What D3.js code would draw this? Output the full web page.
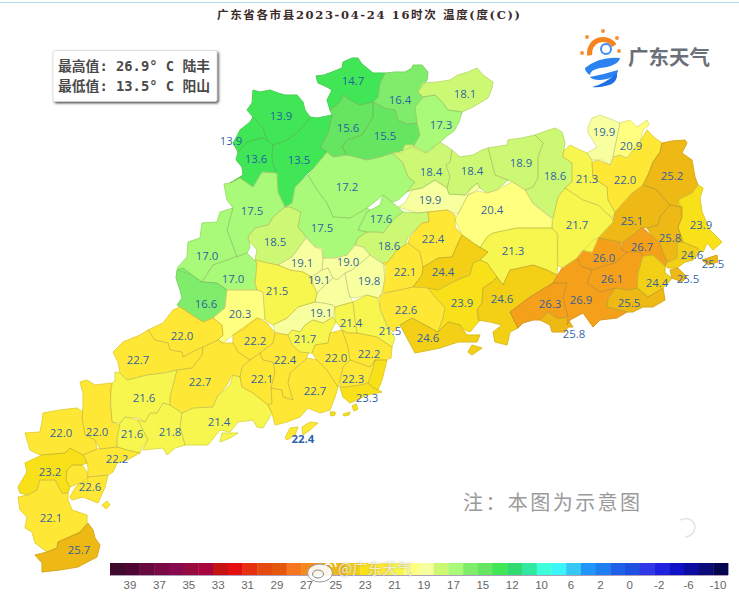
<!DOCTYPE html>
<html><head><meta charset="utf-8">
<script src="https://cdn.jsdelivr.net/npm/d3@7"></script>
<style>html,body{margin:0;padding:0;background:#fff;overflow:hidden}svg{display:block}</style>
</head><body><svg id="c" width="739" height="592"></svg>
<script>
// ---- chart values ----
const titleText = "广东省各市县2023-04-24 16时次 温度(度(C))";
const infoLines = ["最高值: 26.9° C 陆丰", "最低值: 13.5° C 阳山"];
// temperature of every county-level shape, same order as regionRings
const regionValues = [
 14.7,13.9,13.9,13.6,13.5,15.6,15.5,16.4,18.1,17.3,
 17.2,17.5,17.6,19.9,19.9,18.6,18.4,18.4,18.9,18.6,
 20.4,21.3,22.4,22.1,24.4,23.9,22.6,24.6,24.6,24.6,
 26.3,25.8,26.9,26.0,26.1,26.7,24.4,25.5,25.1,21.7,
 21.3,22.0,20.9,19.9,25.2,23.9,25.8,24.6,25.5,25.5,
 17.5,17.0,17.0,16.6,18.5,19.1,19.1,19.1,19.1,19.0,
 19.8,21.5,20.3,22.2,22.0,22.7,22.7,21.6,22.0,22.0,
 21.6,21.8,21.4,21.4,22.1,22.4,21.7,21.4,21.5,22.2,
 23.0,23.3,22.0,22.7,22.3,23.3,23.3,23.3,22.4,22.4,
 22.2,22.6,22.6,22.6,23.2,22.1,25.7
];
// printed value labels
const labelValues = ["14.7","13.9","13.9","13.6","13.5","15.6","15.5","16.4","18.1","17.3","17.2","17.5","17.5","17.6","18.5","18.6","17.0","17.0","16.6","19.1","19.1","19.0","19.8","21.5","20.3","19.1","21.4","21.5","21.7","22.2","22.0","22.7","22.4","22.0","22.2","22.1","22.7","22.7","22.3","23.3","21.6","21.4","21.6","21.8","22.0","22.0","22.2","22.4","23.2","22.6","22.1","25.7","18.4","18.4","18.9","18.6","19.9","20.9","21.3","22.0","25.2","19.9","20.4","21.7","23.9","25.1","25.8","26.7","24.6","25.5","22.4","21.3","26.0","22.1","24.4","26.1","24.4","25.5","23.9","24.6","22.6","26.3","26.9","25.5","25.8","24.6"];
// legend
const legendColors = ["#3f0a2b","#4d0730","#660a3f","#7a0a44","#870a4e","#960a3c","#a8053f","#c51212","#e50e0e","#e6300f","#e34c0e","#e4580e","#f5761e","#f58a1c","#f5a01a","#eeb815","#f3d016","#f9e11a","#ffe835","#f7f64e","#ffff80","#f7ff9f","#cdf874","#a8fa78","#80ec6b","#65e560","#40e655","#30dc70","#30e8a0","#3effdc","#3cf5f8","#35c8f5","#2196f8","#1e80f0","#2060e8","#2050e0","#3038e6","#2020e0","#1010c8","#0c0ca0","#0a0a78","#060650"];
const legendTicks = ["39","37","35","33","31","29","27","25","23","21","19","17","15","12","10","6","2","0","-2","-6","-10"];
// value classes: lower limit of each class and its legend cell
const classLimits = [13,15,16,17,18,19,20,21,22,23,24,25,26];
const classCells  = [26,25,24,23,22,21,20,19,18,17,16,15,14];

// ---- map geometry (base map outlines and label anchors, in map units) ----
const regionRings = [
/*14.7*/[[316,76],[318,83],[327,87],[332,90],[327,100],[330,110],[340,102],[343,95],[350,100],[360,105],[373,102],[378,97],[380,83],[385,73],[373,73],[367,68],[362,64],[358,58],[352,58],[343,62],[342,68],[332,72],[324,75]],
/*13.9*/[[253,90],[260,92],[270,90],[278,93],[285,95],[297,95],[303,102],[305,110],[310,117],[307,122],[298,132],[287,140],[273,145],[267,140],[263,128],[253,117],[247,110],[252,103]],
/*13.9w*/[[250,122],[240,130],[236,138],[233,143],[238,152],[247,142],[262,138],[267,140],[263,128],[253,117]],
/*13.6*/[[238,152],[247,142],[262,138],[267,140],[273,145],[272,155],[273,165],[277,173],[262,172],[253,187],[240,178],[230,183],[243,175],[242,167],[236,160]],
/*13.5*/[[273,145],[287,140],[298,132],[307,122],[310,117],[317,118],[332,115],[328,133],[320,147],[327,152],[318,163],[308,173],[295,187],[292,203],[285,207],[278,192],[277,173],[273,165],[272,155]],
/*15.6*/[[332,115],[330,110],[340,102],[343,95],[350,100],[360,105],[373,102],[373,117],[367,127],[362,135],[347,140],[342,147],[347,155],[333,157],[327,152],[320,147],[328,133]],
/*15.5*/[[373,102],[385,108],[395,110],[398,120],[407,124],[417,123],[420,135],[413,147],[400,151],[393,153],[380,157],[367,160],[347,155],[342,147],[347,140],[362,135],[367,127],[373,117]],
/*16.4*/[[385,73],[395,72],[405,72],[412,68],[413,65],[422,65],[428,72],[427,80],[418,92],[423,97],[415,107],[417,123],[407,124],[398,120],[395,110],[385,108],[373,102],[378,97],[380,83]],
/*18.1*/[[418,92],[423,83],[438,82],[450,80],[458,75],[468,72],[477,68],[483,75],[493,82],[492,88],[488,98],[473,107],[462,112],[448,110],[442,102],[435,95],[423,97]],
/*17.3*/[[423,97],[435,95],[442,102],[448,110],[462,112],[459,122],[454,131],[447,136],[440,142],[425,153],[413,147],[420,135],[417,123],[415,107]],
/*17.2*/[[318,163],[327,152],[333,157],[347,155],[367,160],[380,157],[393,153],[403,163],[408,177],[415,182],[407,192],[398,200],[392,202],[383,195],[367,208],[350,218],[333,217],[327,203],[317,190],[308,175]],
/*17.5e*/[[292,203],[295,187],[308,175],[317,190],[327,203],[333,217],[350,218],[367,208],[370,210],[367,212],[360,225],[358,230],[367,232],[358,238],[355,245],[347,255],[335,258],[323,258],[322,250],[315,247],[310,241],[303,233],[298,227],[301,212],[290,207],[285,207]],
/*17.6*/[[358,230],[362,222],[367,212],[380,205],[383,195],[392,202],[403,212],[395,218],[383,233],[378,232],[367,232]],
/*19.9*/[[398,207],[405,203],[412,190],[422,188],[435,180],[447,188],[449,194],[468,195],[458,214],[447,210],[428,212],[417,213]],
/*19.9 sliver*/[[468,195],[470,188],[478,183],[480,188],[472,193]],
/*18.6*/[[403,212],[417,213],[428,212],[429,222],[422,223],[408,237],[405,245],[397,250],[388,262],[385,265],[370,255],[363,247],[355,245],[358,238],[367,232],[378,232],[383,233],[395,218]],
/*18.4w*/[[392,153],[402,152],[405,145],[413,145],[427,153],[440,142],[452,150],[450,162],[446,165],[450,177],[447,188],[435,180],[422,188],[412,190],[407,192],[415,182],[408,177],[403,163]],
/*18.4e*/[[452,150],[460,157],[473,155],[482,150],[488,148],[492,163],[495,175],[508,180],[497,190],[487,193],[480,188],[477,183],[470,190],[465,195],[449,194],[447,188],[450,177],[446,165],[450,162]],
/*18.9*/[[488,148],[507,145],[508,140],[522,138],[535,135],[543,143],[538,157],[538,178],[533,187],[525,190],[513,182],[508,180],[495,175],[492,163]],
/*18.6e*/[[535,135],[543,132],[555,128],[562,132],[565,143],[563,157],[572,163],[572,182],[565,188],[558,197],[553,218],[548,215],[533,203],[525,190],[533,187],[538,178],[538,157],[543,143]],
/*20.4*/[[458,214],[468,195],[478,191],[487,193],[497,190],[512,182],[525,190],[533,204],[552,219],[552,228],[540,228],[517,228],[493,233],[487,237],[480,248],[470,240],[462,235],[455,220]],
/*21.3*/[[487,237],[493,233],[517,228],[552,228],[557,233],[558,260],[557,275],[547,270],[533,265],[520,268],[510,270],[503,285],[497,277],[487,263],[480,260],[488,252],[480,248]],
/*22.4*/[[428,212],[447,210],[455,215],[455,227],[462,235],[458,243],[452,257],[438,258],[430,263],[423,267],[420,252],[408,243],[410,237],[422,223],[429,222]],
/*22.1*/[[408,243],[420,252],[423,267],[422,275],[413,287],[400,290],[382,293],[385,280],[383,263],[388,262],[397,250],[405,245]],
/*24.4*/[[462,235],[473,243],[488,252],[480,260],[473,263],[470,275],[457,280],[438,290],[428,288],[413,287],[422,275],[423,267],[430,263],[438,258],[452,257],[458,243]],
/*23.9*/[[438,290],[457,280],[470,275],[473,263],[480,260],[487,263],[497,277],[492,282],[483,288],[482,303],[477,310],[480,320],[470,332],[465,330],[460,325],[448,322],[438,332],[443,318],[445,308],[435,297],[428,288]],
/*22.6*/[[380,295],[398,290],[413,287],[428,288],[435,297],[445,308],[443,318],[438,332],[425,325],[412,318],[400,325],[393,332],[387,325],[380,310]],
/*24.6s*/[[400,325],[412,318],[425,325],[438,332],[448,322],[460,325],[467,335],[480,335],[477,342],[458,342],[440,348],[415,353],[408,340]],
/*24.6 isl*/[[472,345],[482,348],[472,355],[468,352]],
/*24.6e*/[[483,288],[492,282],[497,277],[503,285],[510,270],[520,268],[533,265],[547,270],[557,275],[553,283],[530,297],[510,312],[518,328],[510,332],[507,345],[495,342],[493,332],[502,325],[490,322],[478,320],[477,310],[482,303]],
/*26.3*/[[510,312],[530,297],[553,283],[567,283],[563,297],[568,317],[557,318],[548,312],[540,320],[533,320],[523,323],[518,328]],
/*25.8*/[[540,320],[548,312],[557,318],[567,318],[573,327],[568,327],[565,332],[552,332],[550,325]],
/*26.9*/[[553,283],[562,268],[577,258],[581,266],[592,270],[587,283],[600,292],[615,288],[608,298],[607,307],[627,312],[617,318],[600,320],[593,327],[583,313],[570,320],[567,325],[568,317],[563,297],[567,283]],
/*26.0*/[[577,258],[593,240],[598,238],[620,242],[622,250],[627,252],[615,263],[600,267],[592,270],[581,266]],
/*26.1*/[[592,270],[600,267],[615,263],[627,252],[640,252],[643,256],[638,273],[637,288],[628,290],[615,288],[600,292],[587,283]],
/*26.7*/[[622,243],[633,235],[642,227],[653,237],[660,243],[663,253],[667,262],[665,266],[653,255],[643,256],[640,252],[627,252],[622,250]],
/*24.4e*/[[637,288],[638,273],[643,256],[653,255],[665,266],[665,273],[672,278],[668,283],[663,288],[648,297]],
/*25.5s*/[[607,302],[615,288],[628,290],[637,288],[648,297],[663,288],[665,300],[653,307],[643,307],[633,312],[627,312],[607,307]],
/*25.1*/[[598,238],[613,222],[615,212],[632,193],[643,185],[657,190],[663,198],[670,205],[660,217],[658,225],[648,228],[642,227],[633,235],[622,243],[620,242]],
/*21.7*/[[553,218],[558,197],[565,188],[583,200],[598,205],[612,218],[613,222],[598,238],[592,252],[582,250],[577,258],[562,268],[557,265],[558,235],[552,228]],
/*21.3e*/[[563,152],[570,145],[580,150],[587,153],[592,160],[592,163],[593,178],[607,187],[608,200],[615,212],[612,218],[598,205],[583,200],[565,188],[572,182],[572,163],[563,157]],
/*22.0e*/[[592,163],[597,160],[610,165],[613,157],[620,155],[627,158],[633,150],[640,142],[647,130],[655,138],[662,143],[660,152],[653,162],[648,175],[643,185],[632,193],[615,212],[608,200],[607,187],[593,178]],
/*20.9*/[[620,123],[630,120],[637,127],[647,120],[649,125],[643,130],[640,142],[633,150],[627,158],[620,155],[613,157],[615,147],[618,133]],
/*19.9n*/[[588,127],[592,118],[600,115],[613,120],[620,123],[618,133],[615,147],[613,157],[610,165],[602,160],[592,160],[587,153],[597,147],[588,133]],
/*25.2*/[[662,143],[672,141],[685,140],[687,143],[682,153],[692,160],[695,177],[698,185],[692,193],[678,200],[682,207],[670,205],[663,198],[657,190],[643,185],[648,175],[653,162],[660,152]],
/*23.9e*/[[698,185],[703,188],[700,198],[702,212],[710,230],[722,242],[713,250],[707,243],[703,252],[697,248],[683,242],[678,227],[682,217],[678,200],[692,193]],
/*25.8e*/[[670,205],[682,207],[682,217],[678,227],[683,242],[677,243],[677,258],[668,262],[663,253],[660,243],[653,237],[647,228],[658,225],[660,217]],
/*24.6c*/[[677,243],[683,242],[697,248],[700,252],[693,260],[685,262],[677,268],[668,268],[665,266],[668,262],[677,258]],
/*25.5isl*/[[702,260],[717,255],[718,262],[708,265]],
/*25.5c*/[[670,270],[678,268],[687,277],[682,282],[672,278]],
/*17.5w*/[[224,184],[230,183],[240,178],[253,187],[262,172],[277,173],[278,192],[285,207],[273,217],[268,225],[255,228],[248,237],[250,247],[247,253],[237,257],[227,230],[233,208],[227,200]],
/*17.0n*/[[233,208],[220,212],[217,222],[202,223],[200,238],[188,242],[187,257],[178,267],[177,270],[192,275],[202,282],[213,265],[235,257],[237,257],[227,230]],
/*17.0s*/[[202,282],[213,265],[235,257],[247,253],[257,263],[255,283],[257,290],[227,290],[217,283]],
/*16.6*/[[177,270],[183,268],[192,275],[202,282],[217,283],[227,290],[225,308],[213,318],[203,322],[195,317],[180,307],[177,305],[182,298],[180,290],[176,278]],
/*18.5*/[[248,237],[255,228],[268,225],[273,217],[285,207],[290,207],[301,212],[298,227],[303,233],[306,238],[292,257],[278,265],[268,263],[255,260],[257,250],[248,240]],
/*19.1n*/[[292,257],[306,238],[310,242],[315,247],[322,248],[323,258],[322,270],[312,277],[303,272],[290,270],[278,265]],
/*19.1c*/[[312,277],[322,270],[328,268],[333,278],[325,285],[317,293],[313,285]],
/*19 center*/[[317,293],[325,285],[333,278],[337,280],[345,273],[348,290],[350,297],[353,302],[335,307],[333,305],[323,303],[315,302]],
/*19.1s*/[[273,325],[287,318],[298,307],[315,302],[323,303],[333,305],[335,307],[333,317],[323,323],[313,320],[305,325],[300,332],[292,330],[288,335],[275,332]],
/*19.0*/[[323,258],[335,258],[347,255],[355,245],[363,247],[370,255],[362,262],[352,270],[345,273],[337,280],[333,278],[328,268],[322,270]],
/*19.8*/[[345,273],[352,270],[362,262],[370,255],[385,265],[385,277],[382,293],[378,298],[367,295],[355,298],[350,297],[348,290]],
/*21.5*/[[255,260],[268,263],[278,265],[290,270],[303,272],[312,277],[313,285],[317,293],[315,302],[298,307],[287,318],[273,325],[265,320],[263,292],[257,290],[255,283],[257,263]],
/*20.3*/[[227,290],[257,290],[263,292],[265,320],[257,318],[243,330],[233,335],[223,343],[218,340],[223,335],[222,325],[213,318],[225,308]],
/*22.2*/[[233,335],[257,318],[267,323],[275,333],[273,343],[260,353],[250,360],[238,352],[233,343]],
/*22.0w*/[[148,330],[163,323],[173,310],[180,307],[195,317],[203,322],[213,318],[222,325],[223,335],[218,340],[203,347],[192,352],[183,357],[182,352],[170,350],[168,343],[155,340]],
/*22.7nw*/[[113,352],[123,342],[140,335],[148,330],[155,340],[168,343],[170,350],[182,352],[183,357],[192,352],[203,347],[202,355],[192,368],[177,370],[163,373],[147,375],[127,380],[120,373],[118,362]],
/*22.7m*/[[202,355],[203,347],[218,340],[223,343],[233,343],[238,352],[250,360],[242,367],[240,377],[232,375],[227,385],[217,397],[213,407],[193,408],[182,413],[170,405],[170,397],[177,370],[192,368]],
/*21.6n*/[[115,372],[120,373],[127,380],[147,375],[163,373],[177,370],[170,397],[170,405],[163,403],[157,413],[150,413],[145,422],[138,418],[125,417],[120,423],[112,422],[110,387],[115,380]],
/*22.0w2*/[[80,382],[87,380],[95,385],[112,383],[110,403],[112,422],[120,425],[117,438],[117,447],[100,449],[95,440],[85,435],[82,418],[83,407],[83,393]],
/*22.0w1*/[[43,413],[60,410],[77,408],[83,412],[82,418],[85,435],[95,440],[97,449],[83,455],[70,448],[65,453],[40,455],[30,450],[25,433],[40,432],[42,422]],
/*21.6s*/[[120,423],[125,417],[138,420],[143,430],[148,440],[142,448],[140,453],[127,450],[117,447],[117,438]],
/*21.8*/[[145,422],[150,413],[157,413],[163,403],[170,405],[182,413],[180,427],[185,445],[175,448],[167,455],[163,448],[143,450],[148,440],[143,430],[138,420]],
/*21.4*/[[182,413],[193,408],[213,407],[217,397],[230,385],[233,375],[240,377],[242,387],[253,393],[268,405],[272,413],[263,428],[257,427],[253,420],[238,422],[230,432],[220,430],[208,445],[193,445],[185,445],[180,427]],
/*21.4 isl*/[[222,433],[238,433],[230,438],[220,442]],
/*22.1*/[[240,377],[242,367],[250,360],[260,353],[263,360],[273,362],[275,372],[271,388],[272,403],[268,405],[253,393],[242,387]],
/*22.4m*/[[260,353],[273,343],[275,333],[288,335],[292,345],[300,352],[309,353],[305,360],[290,373],[288,383],[293,400],[283,397],[282,390],[271,388],[275,372],[273,362],[263,360]],
/*21.7*/[[288,335],[292,330],[300,332],[305,325],[313,320],[323,323],[333,317],[336,322],[330,333],[328,343],[315,345],[312,353],[300,352],[292,345]],
/*21.4e*/[[335,307],[353,302],[355,320],[357,333],[347,333],[342,330],[335,320]],
/*21.5e*/[[353,302],[367,295],[378,298],[380,307],[387,327],[395,338],[392,347],[377,337],[357,333],[355,320]],
/*22.2e*/[[342,330],[347,333],[357,333],[377,337],[392,347],[391,358],[385,360],[375,360],[370,367],[350,360],[348,347]],
/*strip*/[[375,360],[387,360],[384,372],[382,380],[378,390],[372,387],[368,383],[372,372]],
/*23.3 */[[340,387],[345,387],[360,385],[368,383],[372,387],[378,390],[382,392],[367,395],[350,403],[343,397]],
/*22.0c*/[[330,333],[342,330],[348,347],[350,360],[343,367],[340,380],[338,387],[327,370],[317,360],[312,353],[315,345],[328,343]],
/*22.7e*/[[307,358],[317,360],[327,370],[338,387],[335,397],[330,410],[320,413],[308,408],[300,417],[287,422],[275,425],[272,413],[268,405],[272,403],[271,388],[282,390],[283,397],[293,400],[288,383],[290,373]],
/*22.3*/[[343,367],[350,360],[370,367],[375,360],[372,372],[368,383],[360,385],[345,387],[340,387],[340,380]],
/*isl*/[[330,412],[335,412],[335,415],[331,416]],
/*isl*/[[343,414],[350,412],[349,415],[344,416]],
/*isl*/[[352,406],[356,404],[358,409],[354,411]],
/*22.4 isl*/[[285,438],[290,428],[298,427],[295,435],[287,440]],
/*22.4 isl*/[[302,427],[310,422],[318,423],[310,430],[303,435]],
/*22.2z*/[[83,455],[97,449],[100,449],[117,447],[127,450],[140,453],[127,460],[117,463],[113,472],[108,475],[88,477],[88,467],[85,457]],
/*22.6a*/[[88,477],[108,475],[105,487],[98,503],[83,497],[72,500],[70,497],[75,488],[80,483]],
/*22.6b*/[[67,470],[72,465],[82,465],[87,472],[88,482],[80,483],[70,487],[66,480]],
/*isl*/[[102,505],[107,501],[110,505],[106,509]],
/*23.2*/[[25,463],[42,455],[65,453],[70,448],[83,455],[87,463],[82,465],[72,465],[67,470],[66,480],[70,487],[68,493],[62,493],[55,480],[40,480],[37,490],[28,495],[20,493],[18,487],[27,472]],
/*22.1s*/[[18,497],[28,495],[37,490],[40,480],[55,480],[62,493],[68,493],[68,500],[72,510],[87,515],[87,523],[80,533],[58,542],[57,548],[47,552],[35,543],[32,532],[25,528],[27,517],[20,510]],
/*25.7*/[[58,542],[80,532],[88,523],[93,530],[95,538],[100,545],[97,557],[78,567],[60,570],[42,572],[42,563],[35,555],[47,552],[57,548]]
];
const labelAnchors = [[353,81],[281,116],[231,141],[256,159],[299,160],[348,128],[385,136],[400,100],[465,94],[441,125],[347,187],[252,211],[322,228],[381,219],[275,242],[389,246],[207,256],[233,279],[206,304],[302,263],[319,280],[348,262],[369,281],[277,291],[240,314],[321,313],[351,323],[390,331],[305,339],[255,341],[182,336],[138,360],[285,360],[336,358],[369,354],[262,379],[200,382],[315,391],[353,379],[367,398],[144,398],[219,422],[132,434],[170,432],[61,433],[97,432],[117,459],[303,439],[50,472],[90,487],[51,518],[79,550],[431,172],[472,171],[521,163],[555,176],[604,132],[631,146],[587,179],[625,180],[672,176],[430,200],[492,210],[577,225],[701,225],[632,221],[670,238],[642,247],[692,255],[713,264],[433,239],[513,251],[604,258],[405,272],[443,272],[612,279],[657,283],[688,279],[462,303],[502,299],[406,310],[550,304],[581,300],[629,303],[574,334],[428,338]];

// ---- drawing ----
const svg = d3.select("#c");
const defs = svg.append("defs");
const sh = defs.append("filter").attr("id","boxShadow").attr("x","-10%").attr("y","-10%").attr("width","125%").attr("height","130%");
sh.append("feDropShadow").attr("dx",1.5).attr("dy",1.5).attr("stdDeviation",1).attr("flood-color","#222").attr("flood-opacity",.8);

svg.append("rect").attr("x",0).attr("y",2).attr("width",739).attr("height",1).attr("fill","#b3e0f0");

const colour = d3.scaleThreshold()
  .domain(classLimits)
  .range([legendColors[27]].concat(classCells.map(i => legendColors[i])));

const features = regionRings.map((ring,i) => ({type:"Feature",properties:{value:regionValues[i]},
  geometry:{type:"Polygon",coordinates:[ring.concat([ring[0]])]}}));
const projection = d3.geoIdentity();
const path = d3.geoPath(projection);

const map = svg.append("g");
map.selectAll("path.fill").data(features).join("path").attr("class","fill").attr("d",path)
  .attr("fill",d => colour(d.properties.value))
  .attr("stroke",d => colour(d.properties.value)).attr("stroke-width",1).attr("stroke-linejoin","round");
map.selectAll("path.line").data(features).join("path").attr("class","line").attr("d",path)
  .attr("fill","none").attr("stroke","#77775a").attr("stroke-opacity",.28).attr("stroke-width",.7).attr("stroke-linejoin","round");

svg.append("g").selectAll("text").data(labelValues).join("text")
  .attr("x",(d,i) => projection(labelAnchors[i])[0])
  .attr("y",(d,i) => projection(labelAnchors[i])[1])
  .attr("dy","0.36em").attr("text-anchor","middle")
  .attr("font-family","'Open Sans',Roboto,sans-serif").attr("font-size",11.4)
  .attr("fill","#1d58a5").attr("fill-opacity",.95)
  .attr("font-weight",(d,i)=> i===47 ? 700 : 400)
  .text(d=>d);

// title
svg.append("text").attr("x",217).attr("y",19)
  .attr("font-family","'DejaVu Serif','Noto Sans CJK SC',serif").attr("font-weight",700).attr("font-size",11.5)
  .attr("textLength",303).attr("lengthAdjust","spacing")
  .attr("fill","#3a2a2a").text(titleText);

// info box
svg.append("rect").attr("x",53).attr("y",50.5).attr("width",164).attr("height",51).attr("rx",2)
  .attr("fill","#fff").attr("stroke","#ccc").attr("stroke-width",.6).attr("filter","url(#boxShadow)");
svg.append("g").selectAll("text").data(infoLines).join("text")
  .attr("x",58).attr("y",(d,i)=>71+i*20)
  .attr("font-family","'DejaVu Sans Mono','Noto Sans CJK SC',monospace").attr("font-size",13.5)
  .attr("font-weight",700).attr("fill","#4a4a4a").attr("textLength",152).attr("lengthAdjust","spacingAndGlyphs").text(d=>d);

// logo
const logo = svg.append("g");
[[603,31],[587,37],[617,38],[582,53],[619,51]].forEach(p=>logo.append("circle").attr("cx",p[0]).attr("cy",p[1]).attr("r",2).attr("fill","#f7913a"));
logo.append("path").attr("d",d3.arc()({innerRadius:11,outerRadius:16,startAngle:-1.75,endAngle:1.0})).attr("transform","translate(603,53)").attr("fill","#f5841f");
logo.append("circle").attr("cx",606).attr("cy",49).attr("r",5).attr("fill","none").attr("stroke","#3b8df0").attr("stroke-width",2);
logo.append("path").attr("d","M585 68 Q600 56 620 58 Q618 66 600 68 Q590 70 590 75 Q585 72 585 68Z").attr("fill","#2b82f0");
logo.append("path").attr("d","M590 77 Q605 74 618 70 Q618 78 600 80 Q592 80 590 77Z").attr("fill","#2b82f0");
logo.append("path").attr("d","M592 87 Q605 84 617 73 Q618 84 605 86 Q598 88 592 87Z").attr("fill","#1e6fe6");
svg.append("text").attr("x",628).attr("y",65).attr("font-family","'Noto Sans CJK SC',sans-serif").attr("font-size",20.5).attr("font-weight",700).attr("fill","#6b7078").text("广东天气");

// note
svg.append("text").attr("x",463).attr("y",510).attr("font-family","'Noto Sans CJK SC',sans-serif").attr("font-size",20).attr("fill","#9a9a9a").attr("textLength",177).text("注：本图为示意图");

// legend
const legendBand = d3.scaleBand().domain(d3.range(legendColors.length)).range([110,728]);
svg.append("g").selectAll("rect").data(legendColors).join("rect")
  .attr("x",(d,i)=>legendBand(i)).attr("y",563).attr("width",legendBand.bandwidth()+.4).attr("height",12).attr("fill",d=>d);
svg.append("rect").attr("x",110).attr("y",575).attr("width",618).attr("height",.8).attr("fill","#9a86a8");
const tickScale = d3.scalePoint().domain(legendTicks).range([130,718]);
svg.append("g").selectAll("text").data(legendTicks).join("text")
  .attr("x",d=>tickScale(d)).attr("y",589).attr("text-anchor","middle")
  .attr("font-family","'Liberation Sans',sans-serif").attr("font-size",11.5).attr("fill","#666").text(d=>d);

// weibo watermark
const wm = svg.append("g");
wm.append("ellipse").attr("cx",320).attr("cy",573).attr("rx",12.5).attr("ry",9).attr("fill","#fff").attr("fill-opacity",.9).attr("stroke","#999").attr("stroke-width",1);
wm.append("ellipse").attr("cx",318).attr("cy",574).attr("rx",5.5).attr("ry",4).attr("fill","none").attr("stroke","#888");
wm.append("path").attr("d","M325 565 Q330 562 332 567 M326 561 Q335 559 336 567").attr("fill","none").attr("stroke","#fff").attr("stroke-width",1.6);
svg.append("text").attr("x",338).attr("y",574).attr("font-family","'Noto Sans CJK SC',sans-serif").attr("font-size",15)
  .attr("fill","#fff").attr("fill-opacity",.72).style("text-shadow","0 0 2px rgba(120,120,120,.8)").text("@广东天气");
// faint corner stamp
svg.append("path").attr("d","M680 520 Q692 516 695 526 Q695 536 685 537").attr("fill","none").attr("stroke","#e4e4e4").attr("stroke-width",1.5);
</script></body></html>
